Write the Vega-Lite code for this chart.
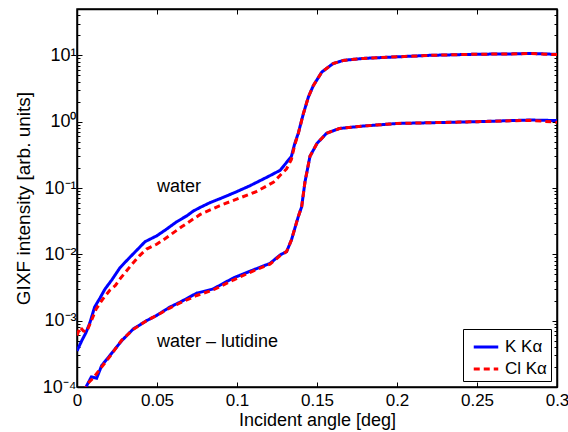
{
  "$schema": "https://vega.github.io/schema/vega-lite/v6.json",
  "width": 480,
  "height": 378,
  "autosize": "none",
  "padding": {"left": 77, "top": 9, "right": 11, "bottom": 45},
  "background": "white",
  "config": {
    "font": "Liberation Sans",
    "view": {"stroke": "black", "strokeWidth": 1.5},
    "axis": {"labelFont": "Liberation Sans", "titleFont": "Liberation Sans", "labelFontSize": 17, "titleFontSize": 19, "titleFontWeight": "normal", "labelColor": "black", "titleColor": "black", "domainColor": "black", "tickColor": "black", "grid": false}
  },
  "datasets": {
    "curves": [
      {"sample": "water", "line": "K Kα", "x": 0, "y": 0.00035},
      {"sample": "water", "line": "K Kα", "x": 0.003, "y": 0.0005},
      {"sample": "water", "line": "K Kα", "x": 0.0056, "y": 0.00066},
      {"sample": "water", "line": "K Kα", "x": 0.008, "y": 0.00092},
      {"sample": "water", "line": "K Kα", "x": 0.011, "y": 0.0016},
      {"sample": "water", "line": "K Kα", "x": 0.0144, "y": 0.0022},
      {"sample": "water", "line": "K Kα", "x": 0.0175, "y": 0.003},
      {"sample": "water", "line": "K Kα", "x": 0.0217, "y": 0.0041},
      {"sample": "water", "line": "K Kα", "x": 0.0269, "y": 0.0063},
      {"sample": "water", "line": "K Kα", "x": 0.032, "y": 0.0085},
      {"sample": "water", "line": "K Kα", "x": 0.0373, "y": 0.0115},
      {"sample": "water", "line": "K Kα", "x": 0.0425, "y": 0.0155},
      {"sample": "water", "line": "K Kα", "x": 0.0498, "y": 0.019},
      {"sample": "water", "line": "K Kα", "x": 0.056, "y": 0.024},
      {"sample": "water", "line": "K Kα", "x": 0.0623, "y": 0.031},
      {"sample": "water", "line": "K Kα", "x": 0.0686, "y": 0.038},
      {"sample": "water", "line": "K Kα", "x": 0.0727, "y": 0.045},
      {"sample": "water", "line": "K Kα", "x": 0.077, "y": 0.051},
      {"sample": "water", "line": "K Kα", "x": 0.083, "y": 0.06},
      {"sample": "water", "line": "K Kα", "x": 0.09, "y": 0.07},
      {"sample": "water", "line": "K Kα", "x": 0.0998, "y": 0.088},
      {"sample": "water", "line": "K Kα", "x": 0.108, "y": 0.108},
      {"sample": "water", "line": "K Kα", "x": 0.1186, "y": 0.145},
      {"sample": "water", "line": "K Kα", "x": 0.127, "y": 0.185},
      {"sample": "water", "line": "K Kα", "x": 0.134, "y": 0.3},
      {"sample": "water", "line": "K Kα", "x": 0.136, "y": 0.46},
      {"sample": "water", "line": "K Kα", "x": 0.1383, "y": 0.67},
      {"sample": "water", "line": "K Kα", "x": 0.1414, "y": 1.3},
      {"sample": "water", "line": "K Kα", "x": 0.1446, "y": 2.35},
      {"sample": "water", "line": "K Kα", "x": 0.1477, "y": 3.5},
      {"sample": "water", "line": "K Kα", "x": 0.153, "y": 5.6},
      {"sample": "water", "line": "K Kα", "x": 0.16, "y": 7.5},
      {"sample": "water", "line": "K Kα", "x": 0.1665, "y": 8.4},
      {"sample": "water", "line": "K Kα", "x": 0.179, "y": 9.0},
      {"sample": "water", "line": "K Kα", "x": 0.2, "y": 9.5},
      {"sample": "water", "line": "K Kα", "x": 0.22, "y": 10.0},
      {"sample": "water", "line": "K Kα", "x": 0.25, "y": 10.4},
      {"sample": "water", "line": "K Kα", "x": 0.27, "y": 10.5},
      {"sample": "water", "line": "K Kα", "x": 0.283, "y": 10.7},
      {"sample": "water", "line": "K Kα", "x": 0.2975, "y": 10.4},
      {"sample": "water", "line": "K Kα", "x": 0.3, "y": 10.4},

      {"sample": "lutidine", "line": "K Kα", "x": 0.0056, "y": 0.0001},
      {"sample": "lutidine", "line": "K Kα", "x": 0.009, "y": 0.000142},
      {"sample": "lutidine", "line": "K Kα", "x": 0.0123, "y": 0.000136},
      {"sample": "lutidine", "line": "K Kα", "x": 0.0154, "y": 0.00021},
      {"sample": "lutidine", "line": "K Kα", "x": 0.0206, "y": 0.0003},
      {"sample": "lutidine", "line": "K Kα", "x": 0.028, "y": 0.0005},
      {"sample": "lutidine", "line": "K Kα", "x": 0.0352, "y": 0.00075},
      {"sample": "lutidine", "line": "K Kα", "x": 0.0435, "y": 0.001},
      {"sample": "lutidine", "line": "K Kα", "x": 0.0498, "y": 0.0012},
      {"sample": "lutidine", "line": "K Kα", "x": 0.058, "y": 0.0016},
      {"sample": "lutidine", "line": "K Kα", "x": 0.0644, "y": 0.0019},
      {"sample": "lutidine", "line": "K Kα", "x": 0.0748, "y": 0.0026},
      {"sample": "lutidine", "line": "K Kα", "x": 0.085, "y": 0.003},
      {"sample": "lutidine", "line": "K Kα", "x": 0.0977, "y": 0.0044},
      {"sample": "lutidine", "line": "K Kα", "x": 0.11, "y": 0.0058},
      {"sample": "lutidine", "line": "K Kα", "x": 0.1206, "y": 0.0073},
      {"sample": "lutidine", "line": "K Kα", "x": 0.127, "y": 0.0098},
      {"sample": "lutidine", "line": "K Kα", "x": 0.131, "y": 0.011},
      {"sample": "lutidine", "line": "K Kα", "x": 0.134, "y": 0.0164},
      {"sample": "lutidine", "line": "K Kα", "x": 0.137, "y": 0.029},
      {"sample": "lutidine", "line": "K Kα", "x": 0.1383, "y": 0.037},
      {"sample": "lutidine", "line": "K Kα", "x": 0.1404, "y": 0.052},
      {"sample": "lutidine", "line": "K Kα", "x": 0.1425, "y": 0.124},
      {"sample": "lutidine", "line": "K Kα", "x": 0.1456, "y": 0.3},
      {"sample": "lutidine", "line": "K Kα", "x": 0.15, "y": 0.47},
      {"sample": "lutidine", "line": "K Kα", "x": 0.156, "y": 0.67},
      {"sample": "lutidine", "line": "K Kα", "x": 0.164, "y": 0.79},
      {"sample": "lutidine", "line": "K Kα", "x": 0.179, "y": 0.86},
      {"sample": "lutidine", "line": "K Kα", "x": 0.2, "y": 0.94},
      {"sample": "lutidine", "line": "K Kα", "x": 0.25, "y": 1.0},
      {"sample": "lutidine", "line": "K Kα", "x": 0.283, "y": 1.06},
      {"sample": "lutidine", "line": "K Kα", "x": 0.3, "y": 1.04},

      {"sample": "water", "line": "Cl Kα", "x": 0, "y": 0.0006},
      {"sample": "water", "line": "Cl Kα", "x": 0.002, "y": 0.0008},
      {"sample": "water", "line": "Cl Kα", "x": 0.004, "y": 0.0007},
      {"sample": "water", "line": "Cl Kα", "x": 0.006, "y": 0.00068},
      {"sample": "water", "line": "Cl Kα", "x": 0.009, "y": 0.001},
      {"sample": "water", "line": "Cl Kα", "x": 0.012, "y": 0.0015},
      {"sample": "water", "line": "Cl Kα", "x": 0.016, "y": 0.0021},
      {"sample": "water", "line": "Cl Kα", "x": 0.0206, "y": 0.0029},
      {"sample": "water", "line": "Cl Kα", "x": 0.024, "y": 0.0034},
      {"sample": "water", "line": "Cl Kα", "x": 0.027, "y": 0.0043},
      {"sample": "water", "line": "Cl Kα", "x": 0.0342, "y": 0.007},
      {"sample": "water", "line": "Cl Kα", "x": 0.039, "y": 0.0095},
      {"sample": "water", "line": "Cl Kα", "x": 0.0435, "y": 0.012},
      {"sample": "water", "line": "Cl Kα", "x": 0.0498, "y": 0.0142},
      {"sample": "water", "line": "Cl Kα", "x": 0.055, "y": 0.0172},
      {"sample": "water", "line": "Cl Kα", "x": 0.0654, "y": 0.026},
      {"sample": "water", "line": "Cl Kα", "x": 0.077, "y": 0.04},
      {"sample": "water", "line": "Cl Kα", "x": 0.089, "y": 0.054},
      {"sample": "water", "line": "Cl Kα", "x": 0.0998, "y": 0.068},
      {"sample": "water", "line": "Cl Kα", "x": 0.112, "y": 0.088},
      {"sample": "water", "line": "Cl Kα", "x": 0.1227, "y": 0.122},
      {"sample": "water", "line": "Cl Kα", "x": 0.131, "y": 0.195},
      {"sample": "water", "line": "Cl Kα", "x": 0.134, "y": 0.27},
      {"sample": "water", "line": "Cl Kα", "x": 0.136, "y": 0.44},
      {"sample": "water", "line": "Cl Kα", "x": 0.1383, "y": 0.66},
      {"sample": "water", "line": "Cl Kα", "x": 0.1414, "y": 1.3},
      {"sample": "water", "line": "Cl Kα", "x": 0.1446, "y": 2.35},
      {"sample": "water", "line": "Cl Kα", "x": 0.1477, "y": 3.5},
      {"sample": "water", "line": "Cl Kα", "x": 0.153, "y": 5.6},
      {"sample": "water", "line": "Cl Kα", "x": 0.16, "y": 7.5},
      {"sample": "water", "line": "Cl Kα", "x": 0.1665, "y": 8.4},
      {"sample": "water", "line": "Cl Kα", "x": 0.179, "y": 9.0},
      {"sample": "water", "line": "Cl Kα", "x": 0.2, "y": 9.5},
      {"sample": "water", "line": "Cl Kα", "x": 0.22, "y": 10.0},
      {"sample": "water", "line": "Cl Kα", "x": 0.25, "y": 10.4},
      {"sample": "water", "line": "Cl Kα", "x": 0.27, "y": 10.5},
      {"sample": "water", "line": "Cl Kα", "x": 0.283, "y": 10.7},
      {"sample": "water", "line": "Cl Kα", "x": 0.2975, "y": 10.3},
      {"sample": "water", "line": "Cl Kα", "x": 0.3, "y": 10.3},

      {"sample": "lutidine", "line": "Cl Kα", "x": 0.004, "y": 0.000085},
      {"sample": "lutidine", "line": "Cl Kα", "x": 0.007, "y": 0.000115},
      {"sample": "lutidine", "line": "Cl Kα", "x": 0.01, "y": 0.000135},
      {"sample": "lutidine", "line": "Cl Kα", "x": 0.0154, "y": 0.0002},
      {"sample": "lutidine", "line": "Cl Kα", "x": 0.0206, "y": 0.00029},
      {"sample": "lutidine", "line": "Cl Kα", "x": 0.028, "y": 0.00051},
      {"sample": "lutidine", "line": "Cl Kα", "x": 0.0352, "y": 0.00074},
      {"sample": "lutidine", "line": "Cl Kα", "x": 0.0435, "y": 0.001},
      {"sample": "lutidine", "line": "Cl Kα", "x": 0.0498, "y": 0.0012},
      {"sample": "lutidine", "line": "Cl Kα", "x": 0.058, "y": 0.00155},
      {"sample": "lutidine", "line": "Cl Kα", "x": 0.0644, "y": 0.00185},
      {"sample": "lutidine", "line": "Cl Kα", "x": 0.0748, "y": 0.0024},
      {"sample": "lutidine", "line": "Cl Kα", "x": 0.085, "y": 0.0029},
      {"sample": "lutidine", "line": "Cl Kα", "x": 0.0977, "y": 0.0041},
      {"sample": "lutidine", "line": "Cl Kα", "x": 0.11, "y": 0.0056},
      {"sample": "lutidine", "line": "Cl Kα", "x": 0.1206, "y": 0.0071},
      {"sample": "lutidine", "line": "Cl Kα", "x": 0.127, "y": 0.0096},
      {"sample": "lutidine", "line": "Cl Kα", "x": 0.131, "y": 0.011},
      {"sample": "lutidine", "line": "Cl Kα", "x": 0.134, "y": 0.0164},
      {"sample": "lutidine", "line": "Cl Kα", "x": 0.137, "y": 0.029},
      {"sample": "lutidine", "line": "Cl Kα", "x": 0.1383, "y": 0.037},
      {"sample": "lutidine", "line": "Cl Kα", "x": 0.1404, "y": 0.052},
      {"sample": "lutidine", "line": "Cl Kα", "x": 0.1425, "y": 0.124},
      {"sample": "lutidine", "line": "Cl Kα", "x": 0.1456, "y": 0.3},
      {"sample": "lutidine", "line": "Cl Kα", "x": 0.15, "y": 0.47},
      {"sample": "lutidine", "line": "Cl Kα", "x": 0.156, "y": 0.67},
      {"sample": "lutidine", "line": "Cl Kα", "x": 0.164, "y": 0.79},
      {"sample": "lutidine", "line": "Cl Kα", "x": 0.179, "y": 0.86},
      {"sample": "lutidine", "line": "Cl Kα", "x": 0.2, "y": 0.94},
      {"sample": "lutidine", "line": "Cl Kα", "x": 0.25, "y": 1.0},
      {"sample": "lutidine", "line": "Cl Kα", "x": 0.283, "y": 1.05},
      {"sample": "lutidine", "line": "Cl Kα", "x": 0.3, "y": 0.98}
    ],
    "labels": [
      {"x": 0.05, "y": 0.103, "text": "water"},
      {"x": 0.05, "y": 0.00047, "text": "water – lutidine"}
    ]
  },
  "resolve": {"axis": {"x": "independent", "y": "independent"}},
  "layer": [
    {
      "data": {"name": "curves"},
      "mark": {"type": "line", "strokeWidth": 3, "clip": true},
      "encoding": {
        "x": {"field": "x", "type": "quantitative", "scale": {"domain": [0, 0.3], "nice": false, "zero": false},
          "axis": {"orient": "bottom", "title": "Incident angle [deg]", "values": [0, 0.05, 0.1, 0.15, 0.2, 0.25, 0.3], "format": "~g", "tickSize": -5, "labelPadding": 10, "titlePadding": 3, "titleFontSize": 18, "domainWidth": 1.5, "labelFlush": false}},
        "y": {"field": "y", "type": "quantitative", "scale": {"type": "log", "domain": [0.0001, 50], "nice": false},
          "axis": {"orient": "left", "title": "GIXF intensity [arb. units]", "titlePadding": 9,
            "values": [0.0001, 0.0002, 0.0003, 0.0004, 0.0005, 0.0006, 0.0007, 0.0008, 0.0009, 0.001, 0.002, 0.003, 0.004, 0.005, 0.006, 0.007, 0.008, 0.009, 0.01, 0.02, 0.03, 0.04, 0.05, 0.06, 0.07, 0.08, 0.09, 0.1, 0.2, 0.3, 0.4, 0.5, 0.6, 0.7, 0.8, 0.9, 1, 2, 3, 4, 5, 6, 7, 8, 9, 10, 20, 30, 40, 50],
            "labelExpr": "datum.value == 10 ? '10¹' : datum.value == 1 ? '10⁰' : datum.value == 0.1 ? '10⁻¹' : datum.value == 0.01 ? '10⁻²' : datum.value == 0.001 ? '10⁻³' : datum.value == 0.0001 ? '10⁻⁴' : ''",
            "tickSize": {"condition": {"test": "indexof([0.0001, 0.001, 0.01, 0.1, 1, 10], datum.value) >= 0", "value": -5}, "value": -3},
            "labelPadding": 6, "labelOverlap": false, "labelFontSize": 18, "domainWidth": 1.5}},
        "color": {"field": "line", "type": "nominal", "scale": {"domain": ["K Kα", "Cl Kα"], "range": ["#0000ff", "#ff0000"]},
          "legend": {"title": null, "orient": "bottom-right", "offset": 6, "strokeColor": "black", "fillColor": "white", "padding": 4, "labelFontSize": 17, "labelFont": "Liberation Sans", "symbolType": "stroke", "symbolStrokeWidth": 3, "symbolSize": 600, "rowPadding": 0, "labelOffset": 5, "symbolOffset": 5}},
        "strokeDash": {"field": "line", "type": "nominal", "scale": {"domain": ["K Kα", "Cl Kα"], "range": [[1, 0], [6, 4]]}, "legend": {"title": null}},
        "detail": {"field": "sample"}
      }
    },
    {
      "data": {"name": "labels"},
      "mark": {"type": "text", "align": "left", "baseline": "middle", "fontSize": 18, "font": "Liberation Sans", "color": "black"},
      "encoding": {
        "x": {"field": "x", "type": "quantitative", "axis": null},
        "y": {"field": "y", "type": "quantitative", "axis": null},
        "text": {"field": "text"}
      }
    },
    {
      "data": {"name": "labels"},
      "mark": {"type": "point", "opacity": 0},
      "encoding": {
        "x": {"field": "x", "type": "quantitative",
          "axis": {"orient": "top", "title": null, "labels": false, "values": [0, 0.05, 0.1, 0.15, 0.2, 0.25, 0.3], "tickSize": -5, "domainWidth": 1.5}},
        "y": {"field": "y", "type": "quantitative",
          "axis": {"orient": "right", "title": null, "labels": false,
            "values": [0.0001, 0.0002, 0.0003, 0.0004, 0.0005, 0.0006, 0.0007, 0.0008, 0.0009, 0.001, 0.002, 0.003, 0.004, 0.005, 0.006, 0.007, 0.008, 0.009, 0.01, 0.02, 0.03, 0.04, 0.05, 0.06, 0.07, 0.08, 0.09, 0.1, 0.2, 0.3, 0.4, 0.5, 0.6, 0.7, 0.8, 0.9, 1, 2, 3, 4, 5, 6, 7, 8, 9, 10, 20, 30, 40, 50],
            "tickSize": {"condition": {"test": "indexof([0.0001, 0.001, 0.01, 0.1, 1, 10], datum.value) >= 0", "value": -5}, "value": -3},
            "domainWidth": 1.5}}
      }
    }
  ]
}
